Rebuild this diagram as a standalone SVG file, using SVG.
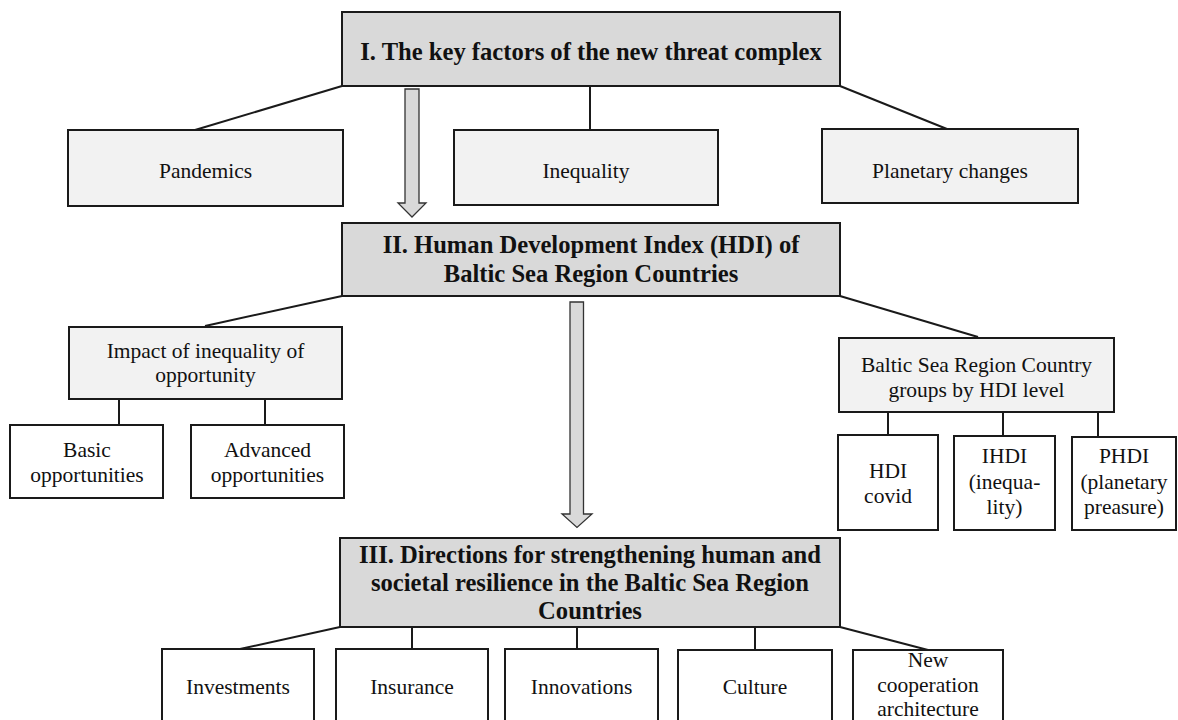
<svg xmlns="http://www.w3.org/2000/svg" width="1178" height="720" viewBox="0 0 1178 720">
<style>
  .hdr { fill: #d9d9d9; stroke: #1a1a1a; stroke-width: 2; }
  .lt { fill: #f2f2f2; stroke: #1a1a1a; stroke-width: 2; }
  .wh { fill: #ffffff; stroke: #1a1a1a; stroke-width: 2; }
  .arrow { fill: #d9d9d9; stroke: #333333; stroke-width: 1.3; stroke-linejoin: miter; }
  .conn line { stroke: #1a1a1a; stroke-width: 2; }
  text { font-family: "Liberation Serif", "Times New Roman", serif; fill: #111111; text-anchor: middle; }
  .b { font-weight: bold; font-size: 24.6px; }
  .r { font-size: 21.5px; }
</style>
<rect width="1178" height="720" fill="#ffffff"/>

<g id="connectors" class="conn">
  <line x1="342" y1="86" x2="195" y2="130"/>
  <line x1="590" y1="86" x2="590" y2="130"/>
  <line x1="840" y1="86" x2="947" y2="129"/>
  <line x1="342" y1="296" x2="205" y2="326"/>
  <line x1="840" y1="296" x2="978" y2="337"/>
  <line x1="119" y1="399" x2="119" y2="425"/>
  <line x1="265" y1="399" x2="265" y2="425"/>
  <line x1="888" y1="412" x2="888" y2="435"/>
  <line x1="1003" y1="412" x2="1003" y2="436"/>
  <line x1="1098" y1="412" x2="1098" y2="437"/>
  <line x1="340" y1="627" x2="240" y2="649"/>
  <line x1="412" y1="627" x2="412" y2="649"/>
  <line x1="577" y1="627" x2="577" y2="649"/>
  <line x1="755" y1="627" x2="755" y2="650"/>
  <line x1="840" y1="627" x2="928" y2="650"/>
  <polygon class="arrow" points="405,89 419,89 419,203 426,203 412,217 398,203 405,203"/>
  <polygon class="arrow" points="570,302 583.5,302 583.5,514 592,514 577,527.5 562,514 570,514"/>
</g>

<g id="node-I">
  <rect class="hdr" x="342" y="12" width="498" height="74"/>
  <text class="b" x="591" y="60">I. The key factors of the new threat complex</text>
</g>
<g id="node-pandemics">
  <rect class="lt" x="68" y="130" width="275" height="76"/>
  <text class="r" x="205.5" y="178">Pandemics</text>
</g>
<g id="node-inequality">
  <rect class="lt" x="454" y="130" width="264" height="75"/>
  <text class="r" x="586" y="178">Inequality</text>
</g>
<g id="node-planetary">
  <rect class="lt" x="822" y="129" width="256" height="74"/>
  <text class="r" x="950" y="178">Planetary changes</text>
</g>

<g id="node-II">
  <rect class="hdr" x="342" y="223" width="498" height="73"/>
  <text class="b" x="591" y="253">II. Human Development Index (HDI) of</text>
  <text class="b" x="591" y="282">Baltic Sea Region Countries</text>
</g>

<g id="node-impact">
  <rect class="lt" x="69" y="327" width="273" height="72"/>
  <text class="r" x="205.5" y="358">Impact of inequality of</text>
  <text class="r" x="205.5" y="382">opportunity</text>
</g>
<g id="node-basic">
  <rect class="wh" x="10" y="425" width="153" height="73"/>
  <text class="r" x="87" y="457">Basic</text>
  <text class="r" x="87" y="482">opportunities</text>
</g>
<g id="node-advanced">
  <rect class="wh" x="191" y="425" width="153" height="73"/>
  <text class="r" x="267.5" y="457">Advanced</text>
  <text class="r" x="267.5" y="482">opportunities</text>
</g>

<g id="node-baltic">
  <rect class="lt" x="839" y="338" width="275" height="74"/>
  <text class="r" x="976.5" y="372">Baltic Sea Region Country</text>
  <text class="r" x="976.5" y="397">groups by HDI level</text>
</g>
<g id="node-hdi">
  <rect class="wh" x="838" y="435" width="100" height="95"/>
  <text class="r" x="888" y="478">HDI</text>
  <text class="r" x="888" y="503">covid</text>
</g>
<g id="node-ihdi">
  <rect class="wh" x="954" y="436" width="101" height="94"/>
  <text class="r" x="1004.5" y="463">IHDI</text>
  <text class="r" x="1004.5" y="489">(inequa-</text>
  <text class="r" x="1004.5" y="514">lity)</text>
</g>
<g id="node-phdi">
  <rect class="wh" x="1072" y="437" width="104" height="93"/>
  <text class="r" x="1124" y="463">PHDI</text>
  <text class="r" x="1124" y="489">(planetary</text>
  <text class="r" x="1124" y="514">preasure)</text>
</g>

<g id="node-III">
  <rect class="hdr" x="340" y="538" width="500" height="89"/>
  <text class="b" x="590" y="563">III. Directions for strengthening human and</text>
  <text class="b" x="590" y="591">societal resilience in the Baltic Sea Region</text>
  <text class="b" x="590" y="619">Countries</text>
</g>

<g id="node-investments">
  <rect class="wh" x="162" y="649" width="152" height="90"/>
  <text class="r" x="238" y="694">Investments</text>
</g>
<g id="node-insurance">
  <rect class="wh" x="336" y="649" width="152" height="90"/>
  <text class="r" x="412" y="694">Insurance</text>
</g>
<g id="node-innovations">
  <rect class="wh" x="505" y="649" width="153" height="90"/>
  <text class="r" x="581.5" y="694">Innovations</text>
</g>
<g id="node-culture">
  <rect class="wh" x="678" y="650" width="154" height="90"/>
  <text class="r" x="755" y="694">Culture</text>
</g>
<g id="node-newcoop">
  <rect class="wh" x="853" y="650" width="150" height="90"/>
  <text class="r" x="928" y="667">New</text>
  <text class="r" x="928" y="692">cooperation</text>
  <text class="r" x="928" y="716">architecture</text>
</g>
</svg>
